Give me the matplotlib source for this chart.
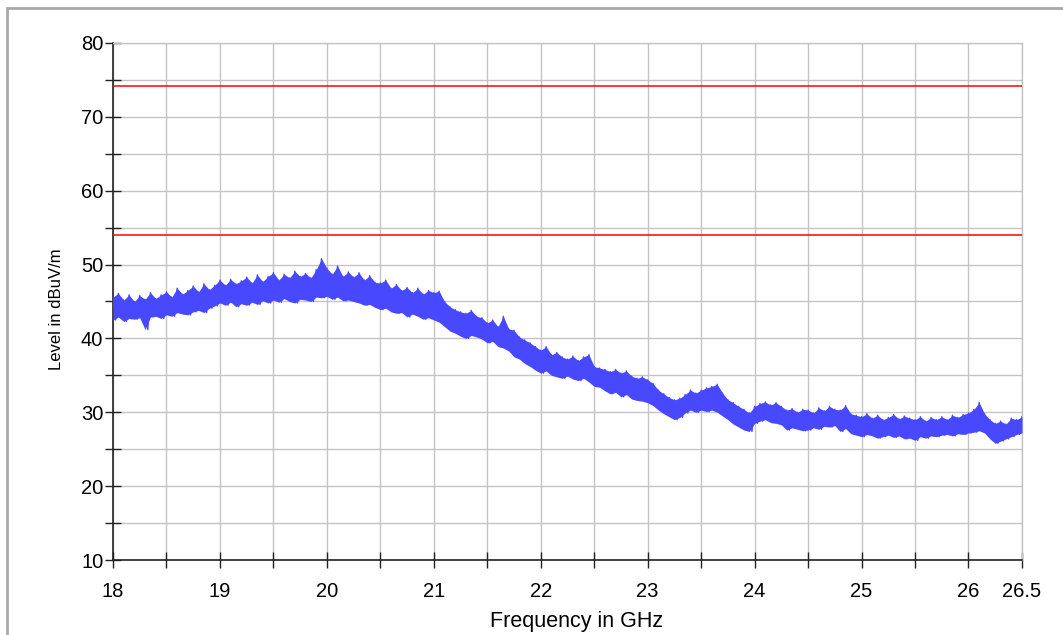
import numpy as np
import matplotlib
matplotlib.use("Agg")
import matplotlib.pyplot as plt
from matplotlib.patches import Rectangle

plt.rcParams['font.family'] = ['Liberation Sans', 'DejaVu Sans']

# frequency grid of the readings (GHz), one upper and one lower reading per step
freq_start = 18.0
freq_step = 0.05

trace_hi = [45.6, 46.1, 45.2, 45.9, 45.0, 45.8, 45.3, 46.2, 45.4, 45.9,
            46.3, 45.6, 46.8, 46.0, 46.5, 47.1, 46.3, 47.4, 46.6, 47.2,
            47.9, 47.2, 48.0, 47.4, 47.8, 48.3, 47.5, 48.6, 47.7, 48.4,
            48.9, 47.9, 48.7, 48.2, 49.1, 48.4, 48.8, 48.2, 49.3, 50.8,
            49.5, 48.7, 49.8, 48.4, 49.0, 48.3, 48.9, 47.9, 48.5, 47.6,
            47.5, 47.9, 46.8, 47.3, 46.5, 46.9, 46.2, 46.8, 46.0, 46.5,
            46.2, 46.4, 45.0, 44.3, 43.9, 43.6, 43.4, 43.8, 43.0, 42.8,
            42.1, 42.5, 41.6, 43.0, 41.3, 41.1, 40.2, 39.8, 39.4, 38.9,
            38.4, 38.9, 37.8, 38.1, 37.5, 37.2, 37.6, 37.0, 37.5, 37.8,
            36.2, 36.0, 35.8, 35.5, 35.8, 35.3, 35.6, 34.9, 34.6, 34.8,
            34.4, 33.9, 33.0, 32.5, 32.0, 31.7, 31.9, 32.4, 33.0, 32.6,
            33.0, 33.3, 33.5, 33.8, 32.6, 31.7, 31.3, 30.8, 30.4, 29.9,
            30.8, 31.2, 31.4, 31.0, 31.3, 30.8, 30.3, 30.5, 30.0, 30.4,
            30.3, 29.9, 30.6, 30.2, 30.8, 30.4, 30.3, 30.9, 29.8, 29.6,
            29.4, 29.8, 29.2, 29.6, 29.0, 29.3, 29.7, 29.1, 29.5, 29.2,
            29.0, 29.4, 28.8, 29.3, 29.0, 29.4, 29.0, 29.6, 29.3, 29.7,
            29.9, 30.4, 31.3, 29.8, 29.0, 28.5, 28.8, 28.4, 29.2, 29.0,
            29.4]

# lower edge of the measured trace (dBuV/m)
trace_lo = [42.5, 42.9, 42.3, 42.7, 42.6, 42.8, 41.2, 42.9, 43.0, 42.7,
            43.2, 43.0, 43.5, 43.3, 43.2, 43.6, 43.8, 43.5, 44.1, 44.4,
            44.8, 44.5, 44.9, 44.3, 44.7, 44.5, 44.9, 44.6, 45.1, 44.8,
            45.2, 44.9, 45.4, 45.0, 44.8, 45.3, 45.2, 45.0, 45.6, 45.5,
            45.7, 45.3, 45.6, 45.1, 45.2, 45.0, 44.8, 44.5, 44.6, 44.2,
            43.9, 44.1, 43.6, 43.4, 43.5, 42.9, 43.3, 43.0, 42.6, 42.8,
            42.5, 42.2, 41.6, 41.0, 40.7, 40.3, 40.0, 40.4, 40.2, 39.9,
            39.4, 39.6, 38.9, 38.7, 38.3, 37.5, 37.2, 36.6, 36.2, 35.7,
            35.3, 35.6, 35.0, 34.8, 34.6, 34.9, 34.5, 34.3, 34.6, 34.1,
            33.5, 33.4, 32.9, 32.5, 32.7, 32.1, 32.4, 31.8, 31.6, 31.5,
            31.3, 30.9, 30.3, 29.8, 29.4, 29.0, 29.3, 29.9, 30.3, 30.0,
            30.3, 30.1, 30.3, 30.0, 29.5, 29.0, 28.4, 28.0, 27.6, 27.4,
            28.5, 28.8, 29.0, 28.6, 28.5, 28.3, 27.6, 27.9, 27.7, 27.5,
            27.6, 27.9, 27.7, 28.1, 28.0, 28.2, 27.4, 27.8, 27.1, 26.9,
            26.7, 27.0, 26.8, 26.5, 26.7, 26.9, 26.6, 26.8, 26.4, 26.5,
            26.2, 26.7, 26.5, 26.8, 26.7, 26.9, 27.0, 26.8, 27.1, 27.0,
            27.2, 27.3, 27.5, 27.2, 26.4, 25.8, 26.1, 26.4, 26.7, 27.0,
            27.2]

# limit lines (dBuV/m)
limit_peak = 74.2
limit_avg = 54.0

x_ticks = [18, 18.5, 19, 19.5, 20, 20.5, 21, 21.5, 22, 22.5, 23, 23.5,
           24, 24.5, 25, 25.5, 26, 26.5]
x_labels = ["18", "", "19", "", "20", "", "21", "", "22", "", "23", "",
            "24", "", "25", "", "26", "26.5"]
y_major = [10, 20, 30, 40, 50, 60, 70, 80]
y_minor = [15, 25, 35, 45, 55, 65, 75]

TRACE = "#4848ff"

# zig-zag between the upper and lower readings
n = len(trace_hi)
f_hi = freq_start + freq_step * np.arange(n)
f_lo = f_hi + freq_step / 2
fx = np.empty(2 * n)
fy = np.empty(2 * n)
fx[0::2] = f_hi
fx[1::2] = f_lo
fy[0::2] = trace_hi
fy[1::2] = trace_lo
keep = fx <= 26.5
fx = fx[keep]
fy = fy[keep]

fig = plt.figure(figsize=(10.63, 6.35), dpi=100)
ax = fig.add_axes([0.1063, 0.1181, 0.8551, 0.8142])

# outer frame of the report
fig.add_artist(Rectangle((7 / 1063, -0.1), 1.2, 1 - 8 / 635 + 0.1,
                         transform=fig.transFigure, fill=False,
                         edgecolor="#a8a8a8", linewidth=2))

ax.set_xlim(18, 26.5)
ax.set_ylim(10, 80)

ax.axhline(limit_peak, color="#ff0000", lw=1.1, zorder=3)
ax.axhline(limit_avg, color="#ff0000", lw=1.1, zorder=3)
ax.fill_between(f_hi, trace_lo, trace_hi, color=TRACE, lw=0, zorder=4)
ax.plot(fx, fy, color=TRACE, lw=1.0, zorder=4)

ax.set_xticks(x_ticks)
ax.set_xticklabels(x_labels)
ax.set_yticks(y_major)
ax.set_yticks(y_minor, minor=True)
ax.grid(True, which="both", color="#c4c4c4", lw=1)
ax.set_axisbelow(True)

ax.tick_params(axis="both", which="both", direction="inout", length=12,
               width=1, color="#222222", labelsize=14.5, labelcolor="black")
ax.tick_params(axis="y", pad=1)
ax.tick_params(axis="x", pad=10)

for s in ["top", "right"]:
    ax.spines[s].set_color("#c4c4c4")
    ax.spines[s].set_linewidth(1)
for s in ["left", "bottom"]:
    ax.spines[s].set_color("#222222")
    ax.spines[s].set_linewidth(1.2)

ax.set_xlabel("Frequency in GHz", fontsize=15.5, va="top")
ax.xaxis.set_label_coords(0.5105, -0.098)
ax.set_ylabel("Level in dBuV/m", fontsize=12, va="bottom")
ax.yaxis.set_label_coords(-0.054, 0.4855)

fig.savefig("out.png", dpi=100)
